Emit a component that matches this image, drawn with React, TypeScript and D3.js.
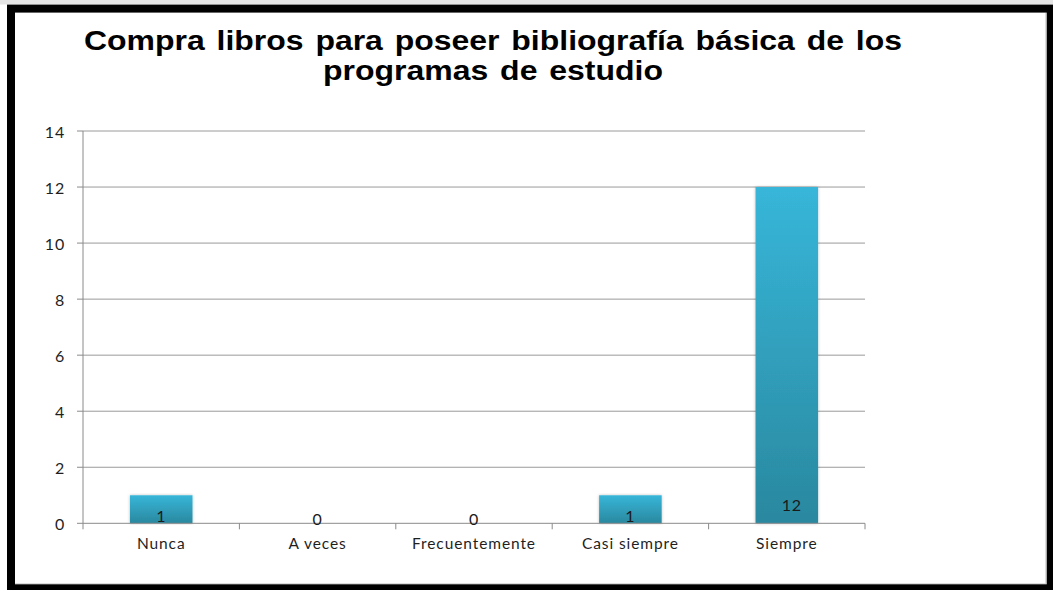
import * as d3 from 'd3';
import { useEffect } from 'react';

// chart data
const categories = ['Nunca', 'A veces', 'Frecuentemente', 'Casi siempre', 'Siempre'];
const values = [1, 0, 0, 1, 12];
const yTicks = [0, 2, 4, 6, 8, 10, 12, 14];
const titleLines = ['Compra libros para poseer bibliografía básica de los', 'programas de estudio'];

const W = 1053;
const H = 590;
const plot = { left: 83, right: 865, top: 131, bottom: 523.3 };
const axisFont = 'Lato, "Open Sans", sans-serif';
const titleFont = '"Liberation Sans", Arial, sans-serif';

export default function App(): React.ReactElement {
  useEffect(() => {
    document.body.style.margin = '0';
  }, []);

  const x = d3
    .scaleBand<string>()
    .domain(categories)
    .range([plot.left, plot.right])
    .paddingInner(0.6)
    .paddingOuter(0.3);
  const xCat = d3.scaleBand<string>().domain(categories).range([plot.left, plot.right]);
  const y = d3.scaleLinear().domain([0, 14]).range([plot.bottom, plot.top]);

  const catEdges = categories.map((c) => xCat(c) || 0).concat([plot.right]);

  return (
    <svg width={W} height={H} style={{ position: 'absolute', left: 0, top: 0, display: 'block' }}>
      <defs>
        <linearGradient id="barGrad" x1="0" y1="0" x2="0" y2="1">
          <stop offset="0%" stopColor="#37b6d9" />
          <stop offset="100%" stopColor="#2a889f" />
        </linearGradient>
        <filter id="barShadow" x="-20%" y="-5%" width="140%" height="110%">
          <feDropShadow dx="0" dy="0" stdDeviation="1.5" floodColor="#000" floodOpacity="0.25" />
        </filter>
      </defs>

      {/* page + frame */}
      <rect x={0} y={0} width={W} height={H} fill="#ffffff" />
      <rect x={0} y={0} width={W} height={4.5} fill="#e4e4e4" />
      <line x1={15} x2={1046} y1={583.8} y2={583.8} stroke="#cfcfcf" />
      <line x1={1045.8} x2={1045.8} y1={12.6} y2={584} stroke="#cfcfcf" />
      <rect x={11} y={8.6} width={1039.7} height={579.7} fill="none" stroke="#000" strokeWidth={8} />

      {/* title */}
      <text
        x={84}
        y={50}
        fontFamily={titleFont}
        fontWeight="bold"
        fontSize={27}
        wordSpacing={2.5}
        fill="#000"
        textLength={818}
        lengthAdjust="spacingAndGlyphs"
      >
        {titleLines[0]}
      </text>
      <text
        x={323}
        y={80}
        fontFamily={titleFont}
        fontWeight="bold"
        fontSize={27}
        wordSpacing={2.5}
        fill="#000"
        textLength={340}
        lengthAdjust="spacingAndGlyphs"
      >
        {titleLines[1]}
      </text>

      {/* grid lines + y ticks */}
      {yTicks.map((t) => (
        <g key={t}>
          {t > 0 && (
            <line x1={plot.left} x2={plot.right} y1={y(t)} y2={y(t)} stroke="#9a9a9a" strokeWidth={1} />
          )}
          <line x1={plot.left - 6} x2={plot.left} y1={y(t)} y2={y(t)} stroke="#8a8a8a" strokeWidth={1} />
          <text
            x={65}
            y={y(t)}
            textAnchor="end"
            dominantBaseline="central"
            fontFamily={axisFont}
            fontSize={16}
            letterSpacing={0.8}
            fill="#1f1f1f"
          >
            {t}
          </text>
        </g>
      ))}

      {/* bars */}
      {categories.map((c, i) => (
        <rect
          key={c}
          x={x(c) || 0}
          y={y(values[i])}
          width={x.bandwidth()}
          height={y(0) - y(values[i])}
          fill="url(#barGrad)"
          filter="url(#barShadow)"
        />
      ))}

      {/* axes */}
      <line x1={plot.left} x2={plot.left} y1={plot.top} y2={plot.bottom} stroke="#8a8a8a" strokeWidth={1} />
      <line x1={plot.left} x2={plot.right} y1={plot.bottom} y2={plot.bottom} stroke="#8a8a8a" strokeWidth={1} />
      {catEdges.map((e, i) => (
        <line key={i} x1={e} x2={e} y1={plot.bottom} y2={plot.bottom + 6} stroke="#8a8a8a" strokeWidth={1} />
      ))}

      {/* value labels */}
      {categories.map((c, i) => (
        <text
          key={c}
          x={(x(c) || 0) + x.bandwidth() / 2 + (values[i] > 2 ? 5 : 0)}
          y={values[i] > 2 ? y(0) - 12 : values[i] > 0 ? y(0) - 1 : y(0) + 2}
          textAnchor="middle"
          fontFamily={axisFont}
          fontSize={16}
          letterSpacing={0.8}
          fill="#1a1a1a"
        >
          {values[i]}
        </text>
      ))}

      {/* category labels */}
      {categories.map((c) => (
        <text
          key={c}
          x={(xCat(c) || 0) + xCat.bandwidth() / 2}
          y={549}
          textAnchor="middle"
          fontFamily={axisFont}
          fontSize={15.5}
          letterSpacing={0.9}
          fill="#1f1f1f"
        >
          {c}
        </text>
      ))}
    </svg>
  );
}
